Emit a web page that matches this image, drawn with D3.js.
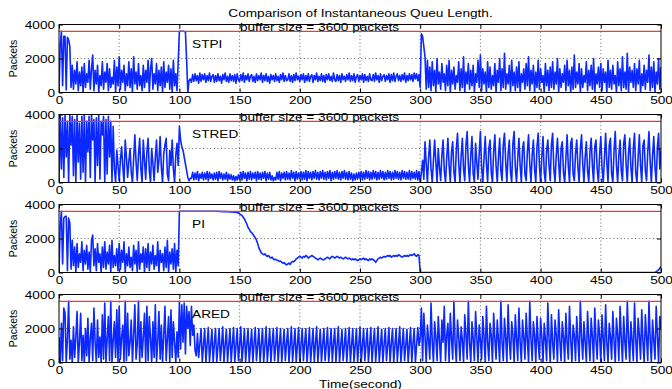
<!DOCTYPE html>
<html><head><meta charset="utf-8">
<script src="https://cdn.jsdelivr.net/npm/d3@7"></script>
<style>
body{margin:0;background:#fff}
svg{display:block}
text{font-family:"Liberation Sans",Arial,Helvetica,sans-serif;fill:#000}
</style>
</head><body>
<svg id="chart" width="672" height="389"></svg>
<script>
// ---- data (queue length in packets, one sample per second, t = 0..500) ----
const titleText = "Comparison of Instantaneous Queu Length.";
const xLabel = "Time(second)";
const yLabel = "Packets";
const bufferSize = 3600;
const bufferText = "buffer size = 3600 packets";
const panelNames = ["STPI", "STRED", "PI", "ARED"];
const timeTicks = [0, 50, 100, 150, 200, 250, 300, 350, 400, 450, 500];
const queueTicks = [0, 2000, 4000];

const stpiQueue = [
0,2800,3600,400,3300,3300,150,3250,3100,2700,
300,1600,200,1300,500,1800,100,1200,400,1500,
0,1700,300,1100,600,1900,200,1400,2200,100,
1300,500,1600,0,1000,400,1800,200,1200,600,
1700,100,1400,300,900,500,1900,0,1500,400,
2100,200,1300,600,1600,100,1100,400,1800,300,
1400,0,2100,500,1200,200,1700,400,1000,100,
1600,300,1300,600,1900,0,1400,2000,200,1100,
500,1700,100,1300,400,1500,0,1800,300,1200,
600,1600,200,1400,0,1900,400,1100,100,1800,
3600,3600,3600,3600,3600,3550,1900,0,700,800,
600,1050,650,1100,700,1000,550,1150,650,1050,
750,1100,600,1000,700,1150,650,950,1050,600,
1000,650,1100,700,950,550,1050,750,1150,650,
950,600,1100,700,1000,650,1050,550,1100,750,
650,1050,700,1150,600,1000,750,1100,650,950,
1050,650,950,600,1100,700,1000,750,1150,600,
1000,700,1100,650,950,550,1050,750,1000,650,
1100,700,950,600,1050,750,1150,650,1000,700,
750,1100,650,1000,600,1050,700,1150,750,950,
650,1050,750,1100,600,1000,700,1100,650,950,
1050,600,1000,750,1150,650,950,700,1100,650,
1000,600,1050,750,1100,700,950,650,1150,750,
650,1050,700,1000,600,1100,750,950,650,1050,
750,1150,650,1000,700,1100,600,950,1050,650,
1000,750,1100,600,1050,700,950,650,1100,750,
700,1050,650,1150,750,1000,600,1100,700,950,
1050,650,1000,750,1100,600,1050,700,1150,650,
950,1100,700,1000,650,1050,750,1150,600,1000,
700,1100,750,1050,650,1150,800,1100,700,1050,
300,3450,3300,2700,2100,200,1900,300,1500,100,
1800,400,1300,0,2000,500,1200,200,1700,600,
1100,100,1600,400,1900,0,1300,500,1500,200,
1000,600,1800,100,1400,300,2100,0,1200,500,
1700,200,1300,400,1600,0,1100,600,1900,300,
2200,100,1400,500,1200,0,1800,300,1500,200,
1000,400,1700,0,1300,600,2000,100,1400,300,
2300,200,1100,500,1600,0,1900,400,1200,100,
1500,300,1800,0,1100,600,1400,200,1700,400,
2100,100,1300,500,1600,0,1200,300,1900,200,
1400,600,1000,0,1700,400,1300,100,1500,300,
1800,200,1200,500,2000,0,1400,300,1100,600,
1600,100,1900,400,1300,0,1500,200,2200,300,
1200,500,1700,0,1400,300,1000,600,1800,100,
1300,400,1600,200,2000,0,1100,500,1500,300,
1700,100,1400,600,1200,0,1900,300,1300,200,
1600,500,1000,0,1800,400,1400,100,2100,300,
1200,200,2300,0,1500,600,1300,300,1700,100,
1400,500,1900,0,1100,400,1600,200,1300,600,
2200,100,1500,300,1800,0,1200,500,2000,200,
1500];

const stredQueue = [
0,4000,800,3800,300,4000,1500,3600,0,4000,
2200,3900,400,3700,0,4000,1200,3500,200,3900,
600,4000,0,3600,1800,3900,300,4000,2500,3700,
0,3800,1000,4000,200,3600,2800,3900,0,3700,
500,3900,1500,3600,0,3300,800,0,1900,1000,
100,1300,2100,900,0,2500,1500,300,1200,2000,
600,0,1400,2800,1200,100,1600,2600,800,0,
2500,1300,200,1800,2600,700,0,2000,1100,100,
1500,2500,600,1300,2700,900,0,1700,2200,2600,
500,100,1900,1000,2500,800,0,1600,2300,1000,
3300,2500,2100,1900,1500,1100,700,300,100,250,
250,600,150,550,200,650,100,500,250,600,
150,550,200,650,100,600,250,500,150,550,
200,600,100,650,250,550,150,500,200,600,
100,500,200,450,150,400,100,350,150,450,
200,600,150,650,250,550,100,600,200,650,
150,550,250,600,100,650,200,550,150,600,
250,650,100,550,200,600,150,400,100,300,
150,600,200,650,100,550,250,600,150,650,
200,550,150,700,250,600,100,650,200,550,
250,650,150,600,200,700,100,650,250,600,
150,650,250,700,200,600,150,650,250,700,
200,600,150,650,250,700,100,600,200,650,
250,700,200,600,150,650,250,700,200,600,
150,650,200,550,100,500,150,550,200,600,
250,650,150,600,200,700,250,650,150,600,
200,700,250,650,150,600,200,700,250,650,
150,600,200,700,250,650,150,600,200,700,
250,650,200,600,150,700,250,650,200,600,
200,700,150,650,250,600,200,700,150,650,
0,600,1300,200,2400,1100,0,1500,2500,800,
0,1300,2500,1200,0,2000,900,100,1600,2500,
700,0,1400,2600,1000,0,1800,2400,600,0,
2000,2900,1100,0,1500,2600,800,100,2200,3000,
1000,0,1600,2700,500,0,2300,1200,200,1700,
3000,900,0,1400,2700,1100,0,2000,2500,600,
0,1800,2800,1000,0,1500,2600,700,100,2200,
2900,1200,0,1700,2500,600,0,2300,3000,900,
0,1400,2600,1000,0,2000,2400,500,100,1800,
2800,1100,0,1600,2500,800,0,2100,2900,1000,
0,1500,2700,600,0,1900,2500,1000,100,2200,
2900,800,0,1600,2600,1200,0,2000,2400,600,
0,1400,2800,1000,0,2300,2600,500,100,1700,
2500,900,0,2000,2800,1100,0,1500,2400,700,
0,1800,2600,1000,0,2100,2500,800,0,1600,
2700,900,0,1400,2900,1200,0,2200,2600,500,
0,1900,3000,1000,0,1600,2500,700,100,2300,
2800,1100,0,1700,2600,900,0,2000,2900,600,
0,1500,2800,1000,0,2200,2500,700,100,1800,
3000,1200,0,1600,2700,900,0,2100,2900,800,
1900];

const piQueue = [
0,2800,3600,500,3200,3300,3300,100,3200,2900,
200,1900,400,1500,0,1700,300,1100,600,1800,
100,1300,500,1600,200,1200,0,1900,2200,400,
1400,100,1700,600,1100,0,1500,300,1800,200,
1200,500,1600,0,1900,300,1000,400,1400,100,
1700,200,1300,600,1800,0,1100,400,1500,300,
900,100,1600,500,1300,0,1800,200,1100,600,
1500,0,1400,300,1700,100,1200,500,1600,200,
1000,400,1800,0,1300,600,1100,100,1500,300,
1900,0,1200,500,1400,200,1700,0,1300,400,
3600,3600,3600,3600,3600,3600,3600,3600,3600,3600,
3600,3600,3600,3600,3600,3600,3600,3600,3600,3600,
3600,3600,3600,3600,3600,3600,3600,3600,3600,3600,
3600,3600,3600,3590,3600,3590,3580,3590,3580,3570,
3580,3570,3560,3570,3560,3550,3560,3540,3520,3500,
3450,3400,3350,3250,3150,3000,2850,2650,2550,2400,
2350,2250,2150,2050,1900,1700,1450,1300,1150,1100,
1050,1100,1000,950,1000,900,850,900,800,750,
780,720,700,650,680,600,550,580,500,450,
500,550,480,600,650,640,700,800,850,900,
950,900,850,950,900,1000,950,850,900,950,
1000,950,900,850,800,750,800,850,800,750,
750,800,850,900,850,800,900,950,900,850,
900,950,900,850,900,850,800,850,900,850,
800,850,800,750,800,750,800,750,700,750,
800,750,800,850,750,800,750,700,800,750,
800,750,700,600,700,800,850,900,850,900,
950,900,950,1000,950,1000,900,950,1000,950,
1000,950,1050,1000,950,900,950,1000,950,1000,
950,1000,1050,1000,1050,1100,1000,950,1050,1000,
0,0,0,0,0,0,0,0,0,0,
0,0,0,0,0,0,0,0,0,0,
0,0,0,0,0,0,0,0,0,0,
0,0,0,0,0,0,0,0,0,0,
0,0,0,0,0,0,0,0,0,0,
0,0,0,0,0,0,0,0,0,0,
0,0,0,0,0,0,0,0,0,0,
0,0,0,0,0,0,0,0,0,0,
0,0,0,0,0,0,0,0,0,0,
0,0,0,0,0,0,0,0,0,0,
0,0,0,0,0,0,0,0,0,0,
0,0,0,0,0,0,0,0,0,0,
0,0,0,0,0,0,0,0,0,0,
0,0,0,0,0,0,0,0,0,0,
0,0,0,0,0,0,0,0,0,0,
0,0,0,0,0,0,0,0,0,0,
0,0,0,0,0,0,0,0,0,0,
0,0,0,0,0,0,0,0,0,0,
0,0,0,0,0,0,0,0,0,0,
0,0,0,0,0,0,50,100,150,250,
350];

const aredQueue = [
1500,0,2300,100,3200,2900,0,1400,3600,200,
1300,0,2100,300,1500,3000,0,1200,2900,100,
1600,0,2000,400,2600,0,1400,2300,100,3200,
1200,0,2500,300,1500,0,2800,200,3500,0,
1400,2700,100,3600,0,1300,2400,300,3100,0,
3300,200,1500,2200,0,3600,100,2900,400,1200,
2500,0,1600,3400,200,1100,3600,0,2400,300,
1500,2900,0,3300,100,2700,1400,0,2400,300,
3400,0,1200,3000,200,2200,0,1600,3300,100,
1400,2700,0,3100,300,2400,1200,0,1800,300,
3600,800,3400,1200,3500,500,3300,2000,3000,1000,
3300,1600,2200,700,400,1700,300,1100,2000,0,
1000,2000,0,1050,2050,50,1000,1950,0,1100,
2000,0,950,2000,100,1000,2100,0,1050,1950,
50,1000,2000,0,1100,2050,0,1000,2000,100,
1000,2100,0,950,2000,50,1050,2000,0,1000,
1950,0,1100,2050,100,1000,2000,0,1050,2000,
0,1000,2100,50,950,2000,0,1100,2000,100,
1000,2050,0,1050,2000,0,1000,1950,100,1100,
2000,0,1000,2100,50,1000,2000,0,1050,2050,
0,1000,2000,100,1100,2000,0,950,2050,0,
1000,2000,50,1100,2100,0,1000,1950,0,1050,
2000,100,1000,2050,0,1000,2000,50,1100,2000,
0,1050,2100,0,1000,1950,100,1000,2000,0,
1100,2050,0,1000,2000,50,950,2000,0,1050,
2100,0,1000,2000,100,1050,2000,0,1000,2050,
0,1100,2000,50,1000,2100,0,1000,1950,0,
1050,2000,100,1000,2050,0,1100,2000,0,1000,
2000,50,1050,2100,0,1000,2000,100,1000,1950,
0,1050,2050,0,1100,2000,0,1000,2050,1000,
1400,3200,100,2900,1500,0,2200,1300,200,3500,
1200,0,2400,1500,100,2700,1300,0,2500,1200,
3300,100,1600,2300,0,2900,1400,200,3600,1100,
0,2500,1500,100,2100,1300,0,2800,1600,200,
3600,1200,0,2400,1400,100,3000,1500,0,2200,
1300,200,2700,1500,0,3300,1200,100,2300,1600,
0,2900,1400,200,2500,1300,0,3600,1200,100,
2600,1500,0,3400,1300,200,2400,1600,0,2800,
1400,100,3200,1200,0,2500,1500,200,2900,1300,
0,3600,1400,100,2400,1600,0,2700,1200,200,
2600,1500,0,2300,1300,100,3500,1400,0,2800,
1200,200,2500,1600,0,3100,1300,100,2400,1500,
0,2900,1200,200,3300,1400,0,2200,1600,100,
2700,1300,0,3600,1500,200,2400,1200,0,3000,
1400,100,2600,1500,0,3200,1300,200,2500,1600,
0,2800,1400,100,3400,1200,0,2300,1500,200,
3000,1300,0,2600,1600,100,3300,1400,0,2700,
1200,200,3600,1500,0,2400,1300,100,3500,1400,
0,2600,1600,200,3100,1200,0,2800,1500,100,
3600,1400,0,2500,1300,200,3300,1600,0,2700,
2000];

const panelSeries = [stpiQueue, stredQueue, piQueue, aredQueue];

// ---- layout ----
const svg = d3.select("#chart");
const plotLeft = 59, plotRight = 661;
const panelTops = [24.5, 114.5, 204.5, 294.5];
const panelH = 68;
const stretch = 1.3;      // horizontal stretch of the original figure's text
const fontPx = 10.5;
const lineBlue = "#0a28ff";
const bufferRed = "#ee3b2b";

const x = d3.scaleLinear().domain([0, 500]).range([plotLeft, plotRight]);

function hText(parent, px, py, str, anchor) {
  return parent.append("text")
    .attr("transform", `translate(${px},${py}) scale(${stretch},1)`)
    .attr("text-anchor", anchor)
    .attr("font-size", fontPx)
    .text(str);
}

// title
hText(svg, 360.5, 17, titleText, "middle");

panelSeries.forEach((data, p) => {
  const top = panelTops[p], bottom = top + panelH;
  const y = d3.scaleLinear().domain([0, 4000]).range([bottom, top]);
  const g = svg.append("g");

  const clipId = "clip" + p;
  svg.append("clipPath").attr("id", clipId)
    .append("rect").attr("x", plotLeft).attr("y", top)
    .attr("width", plotRight - plotLeft).attr("height", panelH);

  // grid (dotted)
  const grid = g.append("g").attr("stroke", "#555").attr("stroke-width", 0.9)
    .attr("stroke-dasharray", "1,2.6");
  grid.selectAll("line.v").data(timeTicks.slice(1, -1)).join("line")
    .attr("x1", d => x(d)).attr("x2", d => x(d))
    .attr("y1", top).attr("y2", bottom);
  grid.selectAll("line.h").data(queueTicks.slice(1, -1)).join("line")
    .attr("x1", plotLeft).attr("x2", plotRight)
    .attr("y1", d => y(d)).attr("y2", d => y(d));

  // queue series
  const line = d3.line().x((d, i) => x(i)).y(d => y(d));
  g.append("path").datum(data)
    .attr("clip-path", `url(#${clipId})`)
    .attr("fill", "none").attr("stroke", lineBlue)
    .attr("stroke-width", 1.6).attr("stroke-linejoin", "round")
    .attr("d", line);

  // buffer line
  g.append("line")
    .attr("x1", plotLeft).attr("x2", plotRight)
    .attr("y1", y(bufferSize)).attr("y2", y(bufferSize))
    .attr("stroke", bufferRed).attr("stroke-width", 1.2);

  // axes with inward ticks
  const fmt = d3.format("d");
  const axB = g.append("g").attr("transform", `translate(0,${bottom})`)
    .call(d3.axisBottom(x).tickValues(timeTicks).tickSize(-4).tickPadding(4.5).tickFormat(fmt));
  const axT = g.append("g").attr("transform", `translate(0,${top})`)
    .call(d3.axisTop(x).tickValues(timeTicks).tickSize(-4).tickFormat(""));
  const axL = g.append("g").attr("transform", `translate(${plotLeft},0)`)
    .call(d3.axisLeft(y).tickValues(queueTicks).tickSize(-4).tickPadding(3).tickFormat(fmt));
  const axR = g.append("g").attr("transform", `translate(${plotRight},0)`)
    .call(d3.axisRight(y).tickValues(queueTicks).tickSize(-4).tickFormat(""));
  [axB, axT, axL, axR].forEach(a => {
    a.select(".domain").remove();
    a.attr("font-family", null).attr("font-size", null);
    a.selectAll("line").attr("stroke", "#000");
    a.selectAll("text").attr("font-size", fontPx).attr("fill", "#000");
  });
  axB.selectAll("text").attr("transform", `scale(${stretch},1)`);
  axL.selectAll("text").attr("transform", `scale(${stretch},1)`).attr("dy", "0.36em");

  // box
  g.append("rect").attr("x", plotLeft).attr("y", top)
    .attr("width", plotRight - plotLeft).attr("height", panelH)
    .attr("fill", "none").attr("stroke", "#000").attr("stroke-width", 1);

  // annotations
  hText(g, x(150.3), y(bufferSize) - 0.3, bufferText, "start");
  hText(g, x(110.5), top + 23.5, panelNames[p], "start");

  // y label
  g.append("text")
    .attr("transform", `translate(17,${top + panelH / 2}) rotate(-90)`)
    .attr("text-anchor", "middle").attr("font-size", fontPx)
    .text(yLabel);
});

hText(svg, 360.5, 387.5, xLabel, "middle");
</script>
</body></html>
